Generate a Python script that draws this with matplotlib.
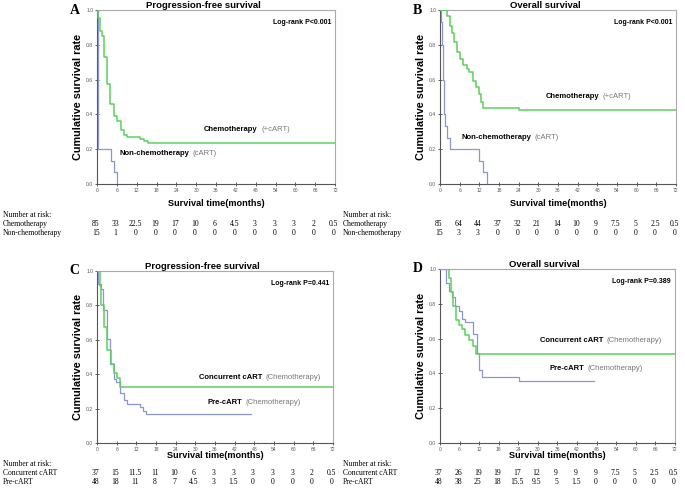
import matplotlib
matplotlib.use("Agg")
import matplotlib.pyplot as plt
from matplotlib.transforms import blended_transform_factory

# ---- data ----
months = [0, 6, 12, 18, 24, 30, 36, 42, 48, 54, 60, 66, 72]

# Panel A: progression-free survival, chemotherapy vs non-chemotherapy
a_chemo_t = [0, 0.2, 0.9, 1.4, 2.2, 3.1, 4.0, 5.2, 6.2, 7.2, 8.2, 9.2, 13.0, 14.2, 15.3, 72]
a_chemo_s = [1.0, 0.955, 0.88, 0.85, 0.73, 0.575, 0.46, 0.39, 0.36, 0.31, 0.28, 0.27, 0.26, 0.25, 0.235, 0.235]
a_non_t = [0, 0.2, 0.25, 0.3, 0.35, 0.4, 4.1, 5.1, 6.1]
a_non_s = [1.0, 0.867, 0.667, 0.467, 0.333, 0.2, 0.133, 0.067, 0.0]

# Panel B: overall survival, chemotherapy vs non-chemotherapy
b_chemo_t = [0, 2.0, 3.0, 3.8, 4.3, 5.1, 6.1, 7.1, 8.1, 9.0, 10.2, 11.0, 12.0, 12.4, 13.0, 24.1, 72]
b_chemo_s = [1.0, 0.964, 0.91, 0.87, 0.814, 0.757, 0.72, 0.686, 0.663, 0.642, 0.592, 0.557, 0.517, 0.469, 0.437, 0.423, 0.423]
b_non_t = [0, 0.3, 0.5, 0.7, 0.8, 0.9, 1.0, 1.1, 1.2, 1.3, 1.6, 2.0, 3.0, 12.0, 13.0, 14.2]
b_non_s = [1.0, 0.933, 0.867, 0.8, 0.733, 0.667, 0.6, 0.533, 0.467, 0.4, 0.333, 0.267, 0.2, 0.133, 0.067, 0.0]

# Panel C: progression-free survival, concurrent cART vs pre-cART
c_conc_t = [0, 0.8, 1.3, 2.2, 3.2, 4.2, 5.2, 6.1, 7.1, 72]
c_conc_s = [1.0, 0.91, 0.80, 0.675, 0.54, 0.46, 0.405, 0.38, 0.325, 0.325]
c_pre_t = [0, 0.2, 1.3, 1.8, 3.1, 4.1, 5.1, 5.8, 7.1, 8.1, 9.2, 13.2, 14.0, 15.0, 47.0]
c_pre_s = [1.0, 0.927, 0.898, 0.772, 0.602, 0.46, 0.375, 0.353, 0.29, 0.251, 0.228, 0.208, 0.187, 0.168, 0.168]

# Panel D: overall survival, concurrent cART vs pre-cART
d_conc_t = [0, 2.9, 3.4, 3.9, 4.9, 5.9, 6.9, 7.8, 8.8, 10.0, 11.0, 72]
d_conc_s = [1.0, 0.946, 0.866, 0.785, 0.705, 0.68, 0.655, 0.623, 0.59, 0.556, 0.513, 0.513]
d_pre_t = [0, 1.8, 2.7, 3.6, 4.6, 5.9, 6.6, 7.7, 10.2, 11.2, 12.0, 13.0, 24.2, 47.2]
d_pre_s = [1.0, 0.92, 0.875, 0.837, 0.79, 0.757, 0.715, 0.693, 0.626, 0.517, 0.417, 0.377, 0.356, 0.356]

# number at risk tables
a_risk_chemo = [85, 33, 22.5, 19, 17, 10, 6, 4.5, 3, 3, 3, 2, 0.5]
a_risk_non = [15, 1, 0, 0, 0, 0, 0, 0, 0, 0, 0, 0, 0]
b_risk_chemo = [85, 64, 44, 37, 32, 21, 14, 10, 9, 7.5, 5, 2.5, 0.5]
b_risk_non = [15, 3, 3, 0, 0, 0, 0, 0, 0, 0, 0, 0, 0]
c_risk_conc = [37, 15, 11.5, 11, 10, 6, 3, 3, 3, 3, 3, 2, 0.5]
c_risk_pre = [48, 18, 11, 8, 7, 4.5, 3, 1.5, 0, 0, 0, 0, 0]
d_risk_conc = [37, 26, 19, 19, 17, 12, 9, 9, 9, 7.5, 5, 2.5, 0.5]
d_risk_pre = [48, 38, 25, 18, 15.5, 9.5, 5, 1.5, 0, 0, 0, 0, 0]

GREEN = "#5cd05c"
BLUE = "#8b95d6"
GREY_TXT = "#777777"

plt.rcParams["font.family"] = ["Liberation Sans", "DejaVu Sans"]

fig = plt.figure(figsize=(6.85, 5.0), dpi=100)


def make_panel(rect, letter, title, pval, curves, labels, risk_rows, risk_y, label_x, xlab_y):
    ax = fig.add_axes(rect)
    for (t, s, color, lw) in curves:
        ax.step(t, s, where="post", color=color, lw=lw, zorder=3)
    ax.set_xlim(0, 72)
    ax.set_ylim(0, 1.0)
    ax.set_xticks(months)
    ax.set_yticks([0, 0.2, 0.4, 0.6, 0.8, 1.0])
    ax.set_yticklabels(["%.1f" % v for v in [0, 0.2, 0.4, 0.6, 0.8, 1.0]])
    ax.tick_params(labelsize=3.6, labelcolor="#555555", length=2.5, width=0.6,
                   direction="inout", color="#444444", pad=1.5)
    for side in ["left", "bottom"]:
        ax.spines[side].set_color("#555555")
        ax.spines[side].set_linewidth(0.8)
    for side in ["top", "right"]:
        ax.spines[side].set_color("#aaaaaa")
        ax.spines[side].set_linewidth(0.8)

    ax.set_title(title, x=0.445, pad=0.8, fontsize=6.8, fontweight="bold")
    ax.set_xlabel("Survival time(months)", fontsize=6.6, fontweight="bold")
    ax.xaxis.set_label_coords(0.5, xlab_y)
    ax.set_ylabel("Cumulative survival rate", fontsize=7.8, fontweight="bold")
    ax.yaxis.set_label_coords(-0.058, 0.5)

    ax.text(0.983, 0.928, pval, transform=ax.transAxes, ha="right", va="center",
            fontsize=5, fontweight="bold")

    # curve labels: bold name + grey note in brackets
    for (x, y, name, note) in labels:
        t1 = ax.text(x, y, name, fontsize=5.5, fontweight="bold", va="center", ha="left")
        ax.annotate(note, xy=(1, 0), xycoords=t1, xytext=(2.5, 0),
                    textcoords="offset points", va="bottom", ha="left",
                    fontsize=5.5, color=GREY_TXT)

    # panel letter
    fig.text(rect[0] - 0.033, rect[1] + rect[3], letter, fontsize=10,
             fontweight="bold", family="Liberation Serif", ha="center", va="center")

    # number at risk table below the axes
    trans = blended_transform_factory(ax.transData, fig.transFigure)
    fig.text(label_x, risk_y[0], "Number at risk:", fontsize=5.5,
             family="Liberation Serif", va="center")
    for (name, vals), y in zip(risk_rows, risk_y[1:]):
        fig.text(label_x, y, name, fontsize=5.5, family="Liberation Serif", va="center")
        for m, v in zip(months, vals):
            ax.text(m - 0.4, y, "%g" % v, transform=trans, fontsize=5.5,
                    family="Liberation Serif", ha="center", va="center", clip_on=False)
    return ax


top_risk = [1 - 215 / 500, 1 - 224 / 500, 1 - 232.5 / 500]
bot_risk = [1 - 464.5 / 500, 1 - 473 / 500, 1 - 481.5 / 500]

make_panel([0.1416, 0.632, 0.3475, 0.348], "A", "Progression-free survival", "Log-rank P<0.001",
           [(a_non_t, a_non_s, BLUE, 0.9), (a_chemo_t, a_chemo_s, GREEN, 1.1)],
           [(32.4, 0.315, "Chemotherapy", "(+cART)"), (6.8, 0.175, "Non-chemotherapy", "(cART)")],
           [("Chemotherapy", a_risk_chemo), ("Non-chemotherapy", a_risk_non)],
           top_risk, 0.004, -0.087)

make_panel([0.6423, 0.632, 0.3445, 0.348], "B", "Overall survival", "Log-rank P<0.001",
           [(b_non_t, b_non_s, BLUE, 0.9), (b_chemo_t, b_chemo_s, GREEN, 1.1)],
           [(32.2, 0.504, "Chemotherapy", "(+cART)"), (6.6, 0.268, "Non-chemotherapy", "(cART)")],
           [("Chemotherapy", b_risk_chemo), ("Non-chemotherapy", b_risk_non)],
           top_risk, 0.501, -0.087)

make_panel([0.1416, 0.114, 0.3445, 0.344], "C", "Progression-free survival", "Log-rank P=0.441",
           [(c_pre_t, c_pre_s, BLUE, 0.9), (c_conc_t, c_conc_s, GREEN, 1.1)],
           [(31.0, 0.382, "Concurrent cART", "(Chemotherapy)"), (33.6, 0.235, "Pre-cART", "(Chemotherapy)")],
           [("Concurrent cART", c_risk_conc), ("Pre-cART", c_risk_pre)],
           bot_risk, 0.004, -0.048)

make_panel([0.6423, 0.114, 0.3431, 0.348], "D", "Overall survival", "Log-rank P=0.389",
           [(d_pre_t, d_pre_s, BLUE, 0.9), (d_conc_t, d_conc_s, GREEN, 1.1)],
           [(30.6, 0.59, "Concurrent cART", "(Chemotherapy)"), (33.5, 0.431, "Pre-cART", "(Chemotherapy)")],
           [("Concurrent cART", d_risk_conc), ("Pre-cART", d_risk_pre)],
           bot_risk, 0.501, -0.048)

fig.savefig("out.png", dpi=100)
